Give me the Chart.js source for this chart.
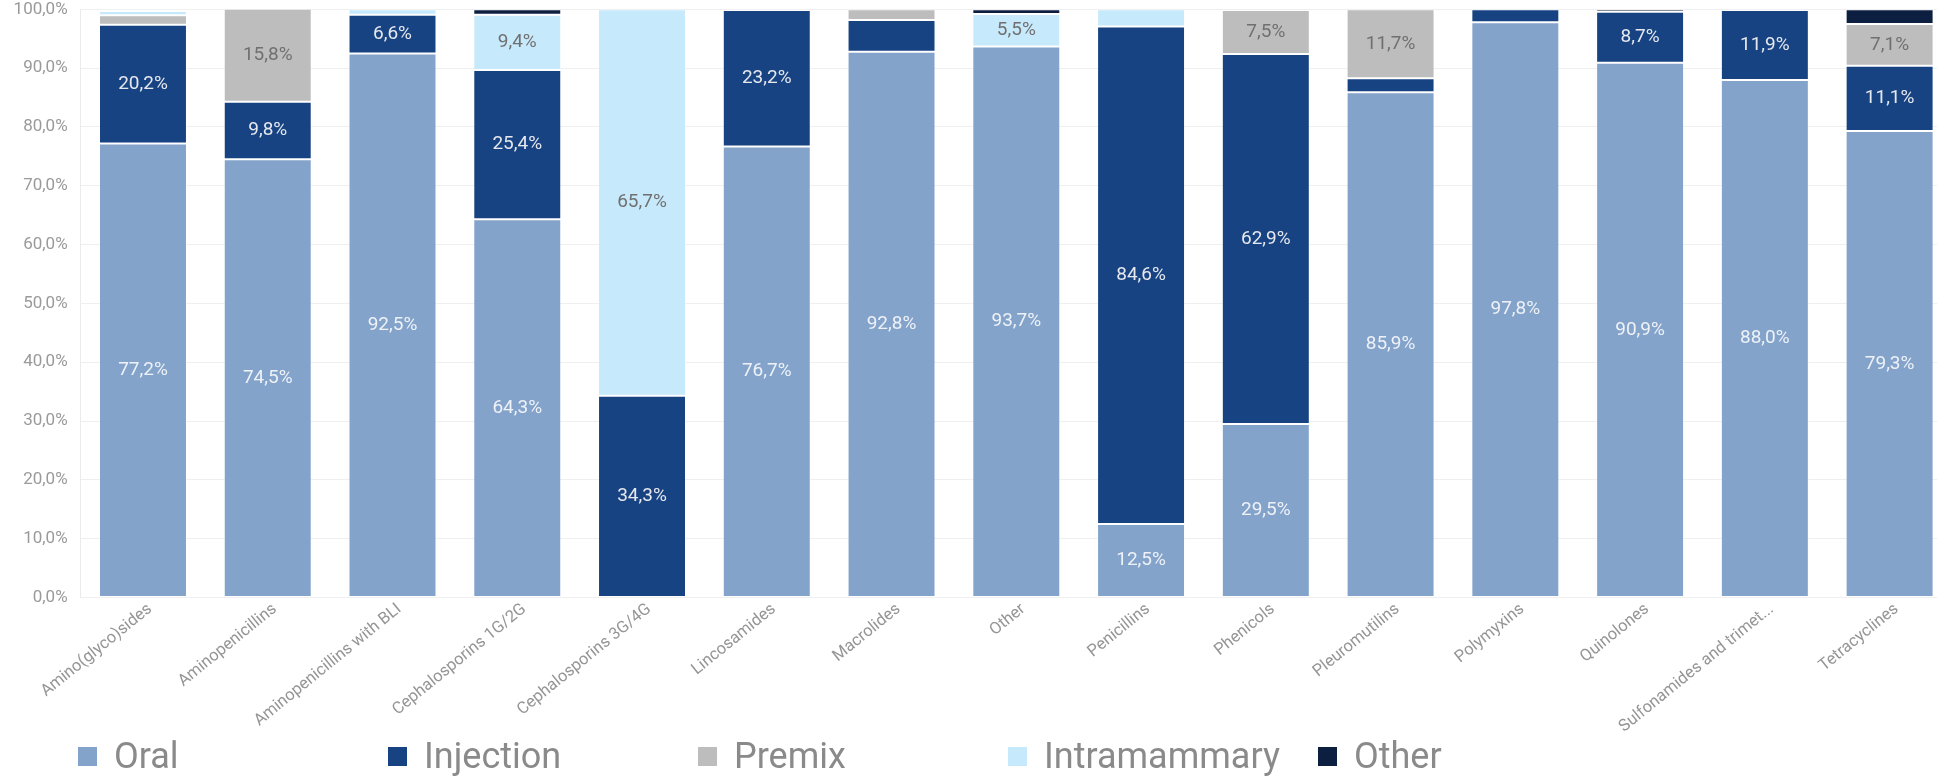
<!DOCTYPE html>
<html>
<head>
<meta charset="utf-8">
<script src="https://cdn.jsdelivr.net/npm/chart.js@4.4.1/dist/chart.umd.min.js"></script>
<style>
  html, body { margin: 0; padding: 0; background: #fff; overflow: hidden; }
  #wrap { position: absolute; left: 0; top: 0; width: 1952px; height: 740px; }
  #legend {
    position: absolute; left: 78px; top: 738px; height: 36px;
    display: flex; font-family: Roboto, sans-serif; font-size: 36px;
    color: #8a8a8a; line-height: 36px;
  }
  #legend .item { width: 310px; display: flex; align-items: center; }
  #legend .sw { width: 19px; height: 19px; margin-right: 17px; flex: none; }
</style>
</head>
<body>
<div id="wrap"><canvas id="chart"></canvas></div>
<div id="legend"></div>
<script>
(function () {
  'use strict';

  const categories = [
    'Amino(glyco)sides', 'Aminopenicillins', 'Aminopenicillins with BLI',
    'Cephalosporins 1G/2G', 'Cephalosporins 3G/4G', 'Lincosamides', 'Macrolides',
    'Other', 'Penicillins', 'Phenicols', 'Pleuromutilins', 'Polymyxins',
    'Quinolones', 'Sulfonamides and trimet...', 'Tetracyclines',
  ];

  // share of each route, % of the class total
  const oral         = [77.2, 74.5, 92.5, 64.3, 0, 76.7, 92.8, 93.7, 12.5, 29.5, 85.9, 97.8, 90.9, 88.0, 79.3];
  const injection    = [20.2, 9.8, 6.6, 25.4, 34.3, 23.2, 5.4, 0, 84.6, 62.9, 2.4, 2.2, 8.7, 11.9, 11.1];
  const premix       = [1.6, 15.8, 0, 0, 0, 0, 1.8, 0, 0, 7.5, 11.7, 0, 0, 0, 7.1];
  const intramammary = [0.7, 0, 0.9, 9.4, 65.7, 0, 0, 5.5, 2.9, 0, 0, 0, 0, 0, 0];
  const other        = [0.3, 0, 0, 0.9, 0, 0, 0, 0.8, 0, 0, 0, 0, 0.4, 0, 2.5];

  const seriesNames  = ['Oral', 'Injection', 'Premix', 'Intramammary', 'Other'];
  const seriesColors = ['#83a3cb', '#174383', '#bdbdbd', '#c7e9fc', '#0d1f40'];
  const labelColors  = ['#eef2f7', '#e6e8ee', '#707070', '#707070', '#ffffff'];

  const yTicks = [0, 10, 20, 30, 40, 50, 60, 70, 80, 90, 100];

  const fmt = v => v.toFixed(1).replace('.', ',') + '%';

  const series = [oral, injection, premix, intramammary, other];

  const datasets = series.map((data, i) => ({
    label: seriesNames[i],
    data,
    backgroundColor: seriesColors[i],
    borderColor: 'rgba(255,255,255,0.22)',
    borderWidth: ctx => (ctx.raw > 0 ? 1 : 0),
    borderSkipped: false,
    categoryPercentage: 1,
    barPercentage: 0.705,
  }));

  // value text in the middle of each segment that is tall enough
  const segmentLabels = {
    id: 'segmentLabels',
    afterDatasetsDraw(chart) {
      const ctx = chart.ctx;
      ctx.save();
      ctx.font = '19px Roboto';
      ctx.textAlign = 'center';
      ctx.textBaseline = 'middle';
      chart.data.datasets.forEach((ds, i) => {
        const meta = chart.getDatasetMeta(i);
        meta.data.forEach((bar, j) => {
          const v = ds.data[j];
          if (v < 5.5) return;
          ctx.fillStyle = labelColors[i];
          ctx.fillText(fmt(v), bar.x, (bar.y + bar.base) / 2);
        });
      });
      ctx.restore();
    },
  };

  new Chart(document.getElementById('chart'), {
    type: 'bar',
    data: { labels: categories, datasets },
    options: {
      responsive: true,
      maintainAspectRatio: false,
      animation: false,
      devicePixelRatio: 1,
      layout: { padding: { top: 0, left: 0, right: 0, bottom: 0 } },
      plugins: {
        legend: { display: false },
        tooltip: { enabled: false },
      },
      scales: {
        x: {
          stacked: true,
          grid: { display: false, drawTicks: false },
          border: { display: false },
          ticks: {
            color: '#959595',
            font: { family: 'Roboto', size: 16.5 },
            autoSkip: false,
            maxRotation: 39,
            minRotation: 39,
            padding: 2,
            labelOffset: 7,
          },
          afterFit(scale) { scale.height = 142.5; },
        },
        y: {
          stacked: true,
          min: 0,
          max: 100,
          afterBuildTicks(scale) { scale.ticks = yTicks.map(value => ({ value })); },
          grid: { color: '#efefef', drawTicks: true, tickLength: 13, tickColor: 'rgba(0,0,0,0)', lineWidth: 1 },
          border: { display: true, color: '#ebebeb' },
          ticks: {
            color: '#9a9a9a',
            font: { family: 'Roboto', size: 17, lineHeight: 1.1 },
            padding: 0,
            callback: v => fmt(v),
          },
          afterFit(scale) { scale.width = 80.6; },
        },
      },
    },
    plugins: [segmentLabels],
  });

  // legend row under the axis labels
  const legend = document.getElementById('legend');
  seriesNames.forEach((name, i) => {
    const item = document.createElement('div');
    item.className = 'item';
    const sw = document.createElement('span');
    sw.className = 'sw';
    sw.style.background = seriesColors[i];
    const txt = document.createElement('span');
    txt.textContent = name;
    item.appendChild(sw);
    item.appendChild(txt);
    legend.appendChild(item);
  });
})();
</script>
</body>
</html>
